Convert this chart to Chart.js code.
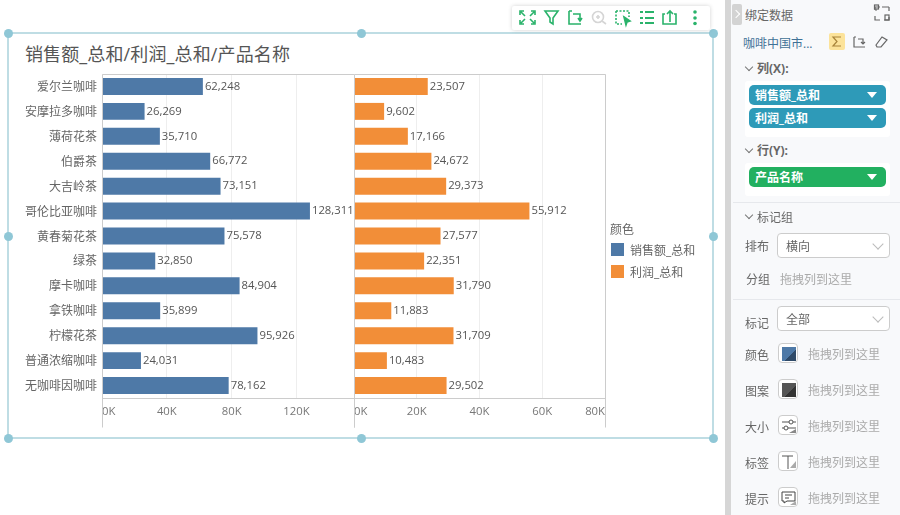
<!DOCTYPE html>
<html><head><meta charset="utf-8">
<script src="https://cdn.jsdelivr.net/npm/chart.js@4/dist/chart.umd.js"></script>
<style>
*{box-sizing:border-box}
html,body{margin:0;padding:0;width:900px;height:515px;overflow:hidden;background:#fff;font-family:"Open Sans","Noto Sans CJK SC",sans-serif}
.a{position:absolute}
.t{position:absolute;margin-top:1px;font-size:12px;line-height:16px;white-space:nowrap;color:#666;font-family:"Open Sans","Noto Sans CJK SC",sans-serif}
canvas{position:absolute}
.h{position:absolute;width:9px;height:9px;border-radius:50%;background:#8FC7D6;margin:-4.5px 0 0 -4.5px}
.l{position:absolute;background:#BFDDE4}
.pill{position:absolute;left:749px;width:137px;height:20px;border-radius:5px;color:#fff;font:bold 12px/22px "Open Sans","Noto Sans CJK SC",sans-serif;padding-left:6px}
.pill:after{content:"";position:absolute;right:9px;top:7px;border:5px solid transparent;border-top:6px solid #fff;border-bottom:0}
.box{position:absolute;left:745px;width:145px;background:#fff;border-radius:3px}
.sel{position:absolute;left:777px;width:113px;height:25px;border:1px solid #ccc;border-radius:4px;background:#fff;font:12px/23px "Noto Sans CJK SC",sans-serif;color:#666;padding-left:8px}
.sel:after{content:"";position:absolute;right:7px;top:6px;width:7px;height:7px;border-right:1px solid #bbb;border-bottom:1px solid #bbb;transform:rotate(45deg)}
.sw{position:absolute;left:778px;width:20px;height:20px;border:1px solid #ccc;border-radius:4px;background:#fff;overflow:hidden}
.chev{position:absolute;width:6px;height:6px;border-right:1px solid #777;border-bottom:1px solid #777;transform:rotate(45deg)}
.div{position:absolute;left:733px;width:167px;height:1px;background:#e6e8ec}
svg{position:absolute;overflow:visible}
</style></head><body>
<div class="l" style="left:7px;top:32px;width:707px;height:2px"></div>
<div class="l" style="left:7px;top:437px;width:707px;height:2px"></div>
<div class="l" style="left:7px;top:33px;width:2px;height:405px"></div>
<div class="l" style="left:712px;top:33px;width:2px;height:405px"></div>
<div class="h" style="left:8px;top:33px"></div><div class="h" style="left:361px;top:33px"></div><div class="h" style="left:713px;top:33px"></div>
<div class="h" style="left:8px;top:236px"></div><div class="h" style="left:713px;top:236px"></div>
<div class="h" style="left:8px;top:438px"></div><div class="h" style="left:361px;top:438px"></div><div class="h" style="left:713px;top:438px"></div>

<div class="a" style="left:512px;top:6px;width:198px;height:24px;background:#fff;border-radius:2px;box-shadow:0 0 4px rgba(0,0,0,.18)"></div>
<svg style="left:0;top:0" width="720" height="32" fill="none" stroke="#2AB36B" stroke-width="1.6">
<path d="M520 15v-4h4M520 20v4h4M521 12l4 4M534 12l-4 4M521 23l4-4M534 23l-4-4M531 11h4v4M531 24h4v-4"/>
<path d="M545 11h13l-5 7v6l-3-2v-4z"/>
<path d="M569 11v13h12M569 11h3M573 14h7v6M578 18l2 3 2-3"/>
<g stroke="#D5D5D5"><circle cx="598" cy="17" r="5.5"/><path d="M602 21l4 3M596 17h4M598 15v4"/></g>
<path d="M616 11h13v6M616 11v13h6" stroke-dasharray="2 1.5"/><path d="M624 17l6 4-3 1-1 3z" fill="#2AB36B"/>
<path d="M640 12h3M645 12h9M640 18h3M645 18h9M640 23h3M645 23h9" stroke-width="2"/>
<path d="M665 14h-2v10h13v-10h-2M670 22v-10M667 14l3-3 3 3"/>
<g fill="#2AB36B" stroke="none"><circle cx="695" cy="12" r="1.8"/><circle cx="695" cy="18" r="1.8"/><circle cx="695" cy="23.500" r="1.8"/></g>
</svg>

<div class="t" style="left:25px;top:40px;font-size:18px;line-height:26px;letter-spacing:.12px;color:#555" id="title"></div>
<canvas id="c1" style="left:0;top:60px" width="362" height="380"></canvas>
<canvas id="c2" style="left:347px;top:60px" width="268" height="380"></canvas>
<div id="legend"></div>

<div class="a" style="left:725px;top:0;width:6px;height:515px;background:#D6D6D6"></div>
<div class="a" style="left:731px;top:0;width:169px;height:515px;background:#F8F9FB"></div>
<div class="a" style="left:732px;top:4px;width:10px;height:21px;background:#D3D3D3;border-radius:2px"></div>
<div class="a" style="left:733px;top:11px;width:6px;height:6px;border-right:1.5px solid #fff;border-top:1.5px solid #fff;transform:rotate(45deg)"></div>
<div class="t" style="left:745px;top:7px">绑定数据</div>
<svg style="left:0;top:0" width="900" height="60" fill="none" stroke="#666" stroke-width="1.2">
<path d="M875 10v-3h5M889 7v4M875 16v4h5M884 20h5v-3M882 7h7M875 10h2"/><rect x="874.500" y="5" width="4" height="4"/><rect x="885" y="15" width="4" height="5"/>
<rect x="829" y="33" width="16" height="17" rx="2" fill="#FCE39A" stroke="none"/>
<path d="M841 37h-8l4 4.500-4 4.500h8" stroke="#A8843A"/>
<path d="M854 37v10h11M854 37h2M858 39h5v4M861 42l2 2 2-2"/>
<path d="M876 45l6-8 5 3-6 7h-4z"/>
</svg>
<div class="t" style="left:743px;top:35px;color:#3F7196">咖啡中国市...</div>
<div class="chev" style="left:746px;top:64px"></div>
<div class="t" style="left:757px;top:60px;font-weight:bold;color:#666">列(X):</div>
<div class="box" style="top:81px;height:56px"></div>
<div class="pill" style="top:85px;background:#2E9AB8" id="p1"></div>
<div class="pill" style="top:108px;background:#2E9AB8" id="p2"></div>
<div class="chev" style="left:746px;top:146px"></div>
<div class="t" style="left:757px;top:142px;font-weight:bold;color:#666">行(Y):</div>
<div class="box" style="top:163px;height:33px"></div>
<div class="pill" style="top:167px;background:#22B060">产品名称</div>
<div class="div" style="top:202px"></div>
<div class="chev" style="left:746px;top:212px"></div>
<div class="t" style="left:757px;top:209px">标记组</div>
<div class="t" style="left:745px;top:238px">排布</div>
<div class="sel" style="top:233px">横向</div>
<div class="t" style="left:746px;top:271px">分组</div>
<div class="t" style="left:780px;top:271px;color:#aaa">拖拽列到这里</div>
<div class="div" style="top:299px"></div>
<div class="t" style="left:745px;top:315px">标记</div>
<div class="sel" style="top:306px">全部</div>
<div id="rows"></div>

<script>
const categories = ["爱尔兰咖啡","安摩拉多咖啡","薄荷花茶","伯爵茶","大吉岭茶","哥伦比亚咖啡","黄春菊花茶","绿茶","摩卡咖啡","拿铁咖啡","柠檬花茶","普通浓缩咖啡","无咖啡因咖啡"];
const salesValues = [62248,26269,35710,66772,73151,128311,75578,32850,84904,35899,95926,24031,78162];
const profitValues = [23507,9602,17166,24672,29373,55912,27577,22351,31790,11883,31709,10483,29502];
const salesTicks = [0,40000,80000,120000];
const profitTicks = [0,20000,40000,60000,80000];
const seriesNames = ["销售额_总和","利润_总和"];
const seriesColors = ["#4E79A7","#F28E38"];
const chartTitle = "销售额_总和/利润_总和/产品名称";
const legendTitle = "颜色";
const rowNames = ["颜色","图案","大小","标签","提示"];
const dropHint = "拖拽列到这里";
const font = '"Open Sans","Noto Sans CJK SC",sans-serif';
const cjk = '"Noto Sans CJK SC",sans-serif';
const numSize = 11.3;

document.getElementById('title').textContent = chartTitle;
document.getElementById('p1').textContent = seriesNames[0];
document.getElementById('p2').textContent = seriesNames[1];

let lg = `<div class="t" style="left:610px;top:221px">${legendTitle}</div>`;
seriesNames.forEach((n,i)=>{
  const y = 243 + i*22;
  lg += `<div class="a" style="left:611px;top:${y}px;width:13px;height:13px;background:${seriesColors[i]}"></div>`;
  lg += `<div class="t" style="left:630px;top:${y-1}px">${n}</div>`;
});
document.getElementById('legend').innerHTML = lg;

const swatches = [
 '<div style="position:absolute;left:3px;top:3px;width:14px;height:14px;background:linear-gradient(135deg,#4E79A7 60%,#2F4A68 60%)"></div>',
 '<div style="position:absolute;left:3px;top:3px;width:14px;height:14px;background:linear-gradient(135deg,#555 60%,#333 60%)"></div>',
 '<svg style="left:0;top:0" width="20" height="20" fill="none" stroke="#555"><path d="M3 6h14M3 12h14"/><circle cx="12" cy="6" r="2" fill="#fff"/><circle cx="7" cy="12" r="2" fill="#fff"/><path d="M10 17l7-4v4z" fill="#888" stroke="none"/></svg>',
 '<svg style="left:0;top:0" width="20" height="20" fill="none" stroke="#555"><path d="M3 4h11M9 4v13" /><path d="M11 16l6-7v7z" fill="#aaa" stroke="none"/></svg>',
 '<svg style="left:0;top:0" width="20" height="20" fill="none" stroke="#444"><path d="M3 4h13v9h-8l-3 2v-2h-2zM6 7h7M6 10h4"/><path d="M11 17l6-4v4z" fill="#aaa" stroke="none"/></svg>'
];
let rh = '';
rowNames.forEach((n,i)=>{
  const y = 343 + i*36;
  rh += `<div class="t" style="left:745px;top:${y+4}px">${n}</div>`;
  rh += `<div class="sw" style="top:${y}px">${swatches[i]}</div>`;
  rh += `<div class="t" style="left:808px;top:${y+3}px;color:#aaa">${dropHint}</div>`;
});
document.getElementById('rows').innerHTML = rh;

const decor = {
  id:'decor',
  afterDatasetsDraw(chart){
    const {ctx,chartArea:a} = chart;
    ctx.save();
    ctx.strokeStyle = '#CCCCCC'; ctx.lineWidth = 1;
    const xl = Math.round(a.left)+.5, xr = Math.round(a.right)+.5, yt = Math.round(a.top)+.5, yb = Math.round(a.bottom)+.5;
    const tail = yb + 29;
    ctx.beginPath();
    ctx.moveTo(xl,yt); ctx.lineTo(xr,yt);
    ctx.moveTo(xl,yb); ctx.lineTo(xr,yb);
    ctx.moveTo(xl,yt); ctx.lineTo(xl,tail);
    ctx.moveTo(xr,yt); ctx.lineTo(xr,tail);
    ctx.stroke();
    const meta = chart.getDatasetMeta(0), vals = chart.data.datasets[0].data;
    ctx.font = numSize+'px '+font; ctx.fillStyle = '#555'; ctx.textAlign='left'; ctx.textBaseline='middle';
    meta.data.forEach((bar,i)=>{
      ctx.fillText(vals[i].toLocaleString('en-US'), bar.x+2, bar.y);
    });
    ctx.restore();
  }
};

function build(id, values, color, name, max, tickVals, showY, pad, yw){
  return new Chart(document.getElementById(id),{
    type:'bar',
    plugins:[decor],
    data:{labels:categories,datasets:[{label:name,data:values,backgroundColor:color,barPercentage:.68,categoryPercentage:1}]},
    options:{
      indexAxis:'y',responsive:false,animation:false,events:[],
      layout:{padding:pad},
      plugins:{legend:{display:false},tooltip:{enabled:false},title:{display:false}},
      scales:{
        x:{min:0,max:max,
          grid:{color:'#EEEEEE',drawTicks:false},
          border:{display:false},
          afterBuildTicks(s){
            const vals = tickVals.includes(max) ? tickVals : tickVals.concat([max]);
            s.ticks = vals.map(v=>({value:v}));
          },
          afterFit(s){s.height=42},
          ticks:{align:'inner',autoSkip:false,maxRotation:0,padding:7,color:'#777',
            font:{size:numSize,family:font},
            callback(v){return tickVals.includes(v)? (v/1000)+'K':''}}
        },
        y:{display:showY,
          grid:{display:false,drawTicks:false},border:{display:false},
          afterFit(s){s.width=yw},
          ticks:{padding:5,color:'#666',autoSkip:false,font:{size:12,family:cjk}}
        }
      }
    }
  });
}
build('c1',salesValues,seriesColors[0],seriesNames[0],155500,salesTicks,true,{top:14,right:8,left:0,bottom:0},102);
build('c2',profitValues,seriesColors[1],seriesNames[1],80000,profitTicks,false,{top:14,right:10,left:7,bottom:0},0);
</script>
</body></html>
